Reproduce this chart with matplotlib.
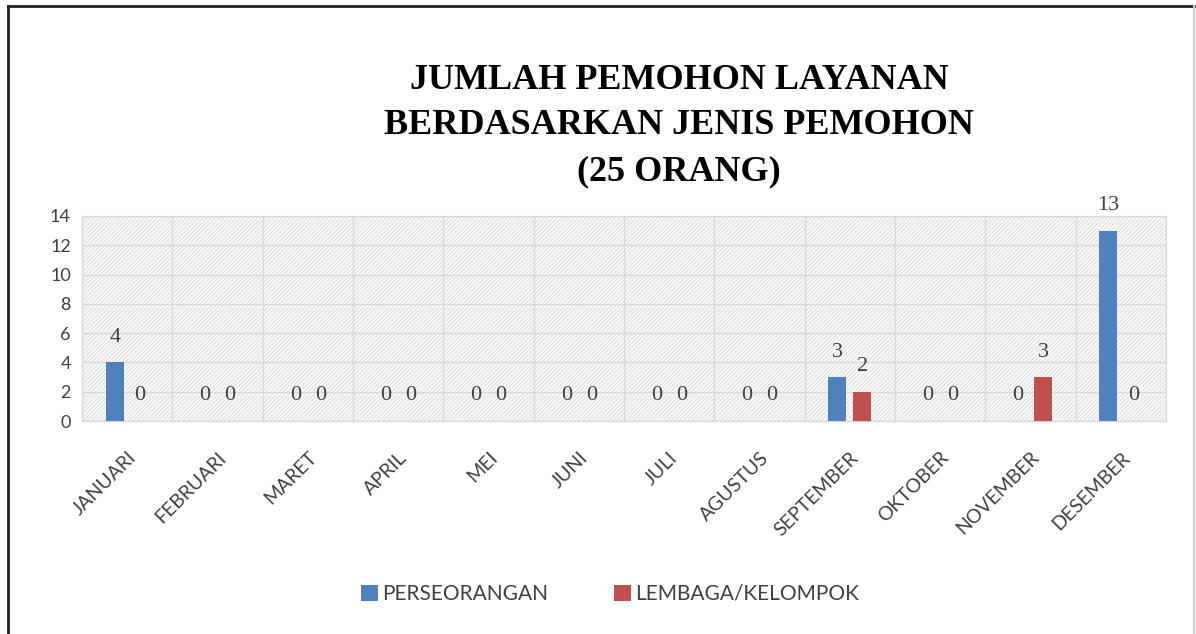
import matplotlib
matplotlib.use('Agg')
from matplotlib import pyplot as plt
from matplotlib.patches import Rectangle
from matplotlib.lines import Line2D
from matplotlib.ticker import MultipleLocator, FixedLocator
import numpy as np

months = ['JANUARI', 'FEBRUARI', 'MARET', 'APRIL', 'MEI', 'JUNI', 'JULI',
          'AGUSTUS', 'SEPTEMBER', 'OKTOBER', 'NOVEMBER', 'DESEMBER']
perseorangan = [4, 0, 0, 0, 0, 0, 0, 0, 3, 0, 0, 13]
lembaga = [0, 0, 0, 0, 0, 0, 0, 0, 2, 0, 3, 0]
series_names = ['PERSEORANGAN', 'LEMBAGA/KELOMPOK']
title = 'JUMLAH PEMOHON LAYANAN\nBERDASARKAN JENIS PEMOHON\n(25 ORANG)'

blue = '#4F81BD'
red = '#C0504D'
grid_c = '#d9d9d9'
txt_c = '#404040'

plt.rcParams['hatch.linewidth'] = 0.7
plt.rcParams['hatch.color'] = '#dcdcdc'

fig = plt.figure(figsize=(11.96, 6.34), dpi=100)
ax = fig.add_axes([82/1196, 1 - 421/634, (1166-82)/1196, (421-216)/634])

# hatched plot-area background
ax.add_patch(Rectangle((0, 0), 1, 1, transform=ax.transAxes, facecolor='#fbfbfb',
                       hatch='////////', edgecolor='#dcdcdc', linewidth=0, zorder=0))

x = np.arange(len(months))
w = 0.2
off = 0.138
b1 = ax.bar(x - off, perseorangan, w, color=blue, label=series_names[0], zorder=3)
b2 = ax.bar(x + off, lembaga, w, color=red, label=series_names[1], zorder=3)

for bars in (b1, b2):
    for r in bars:
        h = r.get_height()
        ax.annotate(f'{int(h)}', (r.get_x() + r.get_width()/2, h),
                    xytext=(0, 18), textcoords='offset points',
                    ha='center', va='center', fontsize=16,
                    family='Liberation Serif', color=txt_c)

ax.set_xlim(-0.5, len(months) - 0.5)
ax.set_ylim(0, 14)
ax.yaxis.set_major_locator(MultipleLocator(2))
ax.xaxis.set_minor_locator(FixedLocator(np.arange(-0.5, len(months), 1)))
ax.set_xticks(x)
ax.set_xticklabels(months, rotation=45, ha='right', rotation_mode='anchor',
                   fontsize=14, family='Lato', color=txt_c)
for lab in ax.get_yticklabels():
    lab.set_family('Lato')
ax.tick_params(axis='y', labelsize=13, labelcolor=txt_c, length=0, pad=8)
ax.tick_params(axis='x', which='both', length=0, pad=20)
ax.grid(axis='y', color=grid_c, linewidth=1, zorder=1)
ax.grid(axis='x', which='minor', color=grid_c, linewidth=1, zorder=1)
ax.set_axisbelow(True)
for s in ax.spines.values():
    s.set_color(grid_c)

fig.text(0.568, 1 - 126/634, title, ha='center', va='center', fontsize=26,
         fontweight='bold', family='Liberation Serif', linespacing=1.5)

leg = fig.legend(handles=[b1, b2], loc='center', bbox_to_anchor=(0.51, 1 - 594/634),
                 ncol=2, frameon=False, handlelength=0.8, handleheight=0.8,
                 handletextpad=0.2, columnspacing=3.2, prop={'family': 'Lato', 'size': 15})
for t in leg.get_texts():
    t.set_color(txt_c)

# outer frame: dark on left/top, light on right
fig.add_artist(Line2D([8/1196, 8/1196], [0, 1 - 6/634], transform=fig.transFigure,
                      color='#222222', linewidth=2))
fig.add_artist(Line2D([8/1196, 1194/1196], [1 - 6/634, 1 - 6/634], transform=fig.transFigure,
                      color='#222222', linewidth=2))
fig.add_artist(Line2D([1194/1196, 1194/1196], [0, 1 - 6/634], transform=fig.transFigure,
                      color='#d0d0d0', linewidth=1.5))

fig.savefig('out.png', dpi=100)
